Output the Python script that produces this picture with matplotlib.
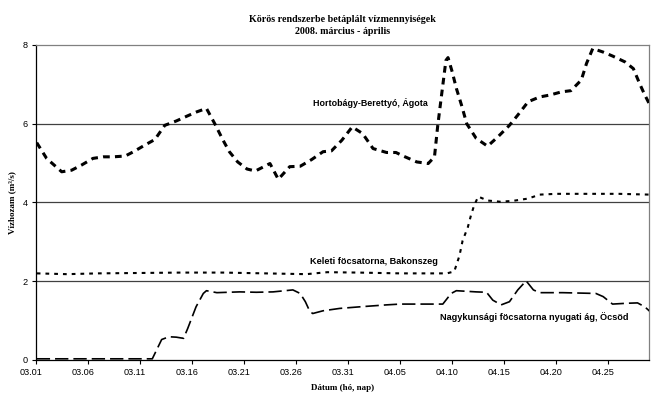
import matplotlib.pyplot as plt
import matplotlib.transforms as mtrans

# napok 03.01-tol szamolva
hb_nap = [0.1, 1.05, 2.5, 3.45, 4.4, 5.5, 6.5, 7.45, 8.6, 9.4, 10.5, 11.45, 12.4,
          13.5, 14.5, 15.45, 16.4, 17.2, 18.0, 18.6, 19.4, 20.3, 21.1, 22.5, 23.3,
          24.4, 25.4, 26.5, 27.6, 28.4, 29.4, 30.4, 31.4, 32.4, 33.7, 34.6, 35.3,
          36.6, 37.7, 38.3, 38.6, 38.8, 39.0, 39.2, 39.4, 39.6, 40.0, 40.4, 40.9,
          41.4, 42.3, 43.4, 44.4, 45.5, 46.3, 47.3, 48.4, 49.4, 50.5, 51.4, 52.4,
          52.9, 53.5, 54.5, 55.4, 56.6, 57.4, 58.0, 58.5, 59.0]
hb_q = [5.52, 5.12, 4.78, 4.82, 4.95, 5.12, 5.16, 5.16, 5.18, 5.29, 5.46, 5.60, 5.96,
        6.07, 6.19, 6.30, 6.39, 6.00, 5.58, 5.29, 5.03, 4.85, 4.80, 4.99, 4.59,
        4.91, 4.92, 5.09, 5.29, 5.31, 5.58, 5.92, 5.75, 5.37, 5.27, 5.27, 5.18,
        5.03, 4.99, 5.16, 5.92, 6.35, 6.77, 7.19, 7.61, 7.68, 7.32, 6.90, 6.47,
        6.00, 5.63, 5.43, 5.67, 5.96, 6.22, 6.56, 6.68, 6.73, 6.81, 6.84, 7.11,
        7.53, 7.91, 7.82, 7.72, 7.57, 7.40, 7.02, 6.73, 6.47]

kel_nap = [0.1, 3, 6, 10, 14, 18, 22, 26, 28, 31, 35, 39.5, 40.2, 40.7, 41.0, 41.5,
           41.8, 42.1, 42.5, 43.4, 44.6, 45.8, 47.3, 48.4, 50.0, 53.5, 56.0, 59.0]
kel_q = [2.20, 2.18, 2.20, 2.21, 2.22, 2.22, 2.20, 2.18, 2.23, 2.22, 2.20, 2.20, 2.25,
         2.65, 3.03, 3.37, 3.67, 3.92, 4.15, 4.05, 4.02, 4.04, 4.10, 4.20, 4.22,
         4.22, 4.22, 4.20]

nk_nap = [0.1, 11.0, 11.2, 12.1, 12.8, 13.5, 14.2, 14.6, 15.4, 16.1, 16.4, 17.4,
          19.6, 21.2, 22.8, 24.7, 25.4, 25.9, 26.3, 26.6, 27.6, 29.2, 31.1, 33.7,
          35.0, 39.1, 39.9, 40.4, 42.3, 43.3, 43.9, 44.7, 45.5, 46.3, 47.1, 47.8,
          48.4, 50.6, 53.8, 54.5, 55.4, 56.7, 57.8, 58.5, 59.0]
nk_q = [0.03, 0.03, 0.03, 0.52, 0.59, 0.58, 0.55, 0.80, 1.35, 1.69, 1.76, 1.71,
        1.73, 1.72, 1.73, 1.78, 1.69, 1.48, 1.25, 1.18, 1.25, 1.31, 1.35, 1.40,
        1.42, 1.42, 1.69, 1.76, 1.73, 1.72, 1.52, 1.40, 1.48, 1.78, 2.01, 1.78,
        1.71, 1.71, 1.69, 1.61, 1.42, 1.44, 1.45, 1.35, 1.23]

tick_nap = [0, 5, 10, 15, 20, 25, 30, 35, 40, 45, 50, 55]
tick_cimke = ['03.01', '03.06', '03.11', '03.16', '03.21', '03.26', '03.31',
              '04.05', '04.10', '04.15', '04.20', '04.25']

fig = plt.figure(figsize=(6.51, 3.94), dpi=100)
ax = fig.add_axes([0.0548, 0.0863, 0.9421, 0.7995])

for y in [2, 4, 6]:
    ax.axhline(y, color='#404040', lw=0.9, zorder=1)

ax.plot(hb_nap, hb_q, color='black', lw=2.2, dashes=(2.2, 1.7),
        solid_capstyle='butt', dash_capstyle='butt', zorder=3)
ax.plot(kel_nap, kel_q, color='black', lw=1.5, dashes=(1.8, 2.4),
        dash_capstyle='butt', zorder=3)
ax.plot(nk_nap, nk_q, color='black', lw=1.2, dashes=(8.0, 3.0),
        dash_capstyle='butt', zorder=3)

fsans = 'Liberation Sans'
fserif = 'Liberation Serif'

ax.text(26.6, 6.52, 'Hortobágy-Berettyó, Ágota', fontsize=6.4, fontweight='bold',
        family=fsans, va='center')
ax.text(26.3, 2.51, 'Keleti föcsatorna, Bakonszeg', fontsize=6.6, fontweight='bold',
        family=fsans, va='center')
ax.text(38.8, 1.1, 'Nagykunsági föcsatorna nyugati ág, Öcsöd', fontsize=6.6,
        fontweight='bold', family=fsans, va='center')

ax.set_xlim(0, 58.9)
ax.set_ylim(0, 8)
ax.set_yticks([0, 2, 4, 6, 8])
ax.set_xticks(tick_nap)
ax.set_xticklabels(tick_cimke)
ax.tick_params(direction='out', length=3, width=0.8, labelsize=6.6, pad=3)
for lab in ax.get_xticklabels() + ax.get_yticklabels():
    lab.set_family(fsans)

# az x cimkek kicsit balra tolva
eltol = mtrans.ScaledTranslation(-0.05, 0.0, fig.dpi_scale_trans)
for lab in ax.get_xticklabels():
    lab.set_transform(lab.get_transform() + eltol)

ax.spines['left'].set_color('black')
ax.spines['bottom'].set_color('black')
ax.spines['top'].set_color('#808080')
ax.spines['right'].set_color('#808080')
for s in ax.spines.values():
    s.set_linewidth(0.9)

ax.set_title('Körös rendszerbe betáplált vízmennyiségek\n2008. március - április',
             fontsize=7.2, fontweight='bold', family=fserif, pad=8, linespacing=1.45)
ax.set_xlabel('Dátum (hó, nap)', fontsize=6.5, fontweight='bold', family=fserif,
              labelpad=5)
ax.set_ylabel('Vízhozam (m³/s)', fontsize=6.5, fontweight='bold', family=fserif,
              labelpad=4)

fig.savefig('out.png', dpi=100)
